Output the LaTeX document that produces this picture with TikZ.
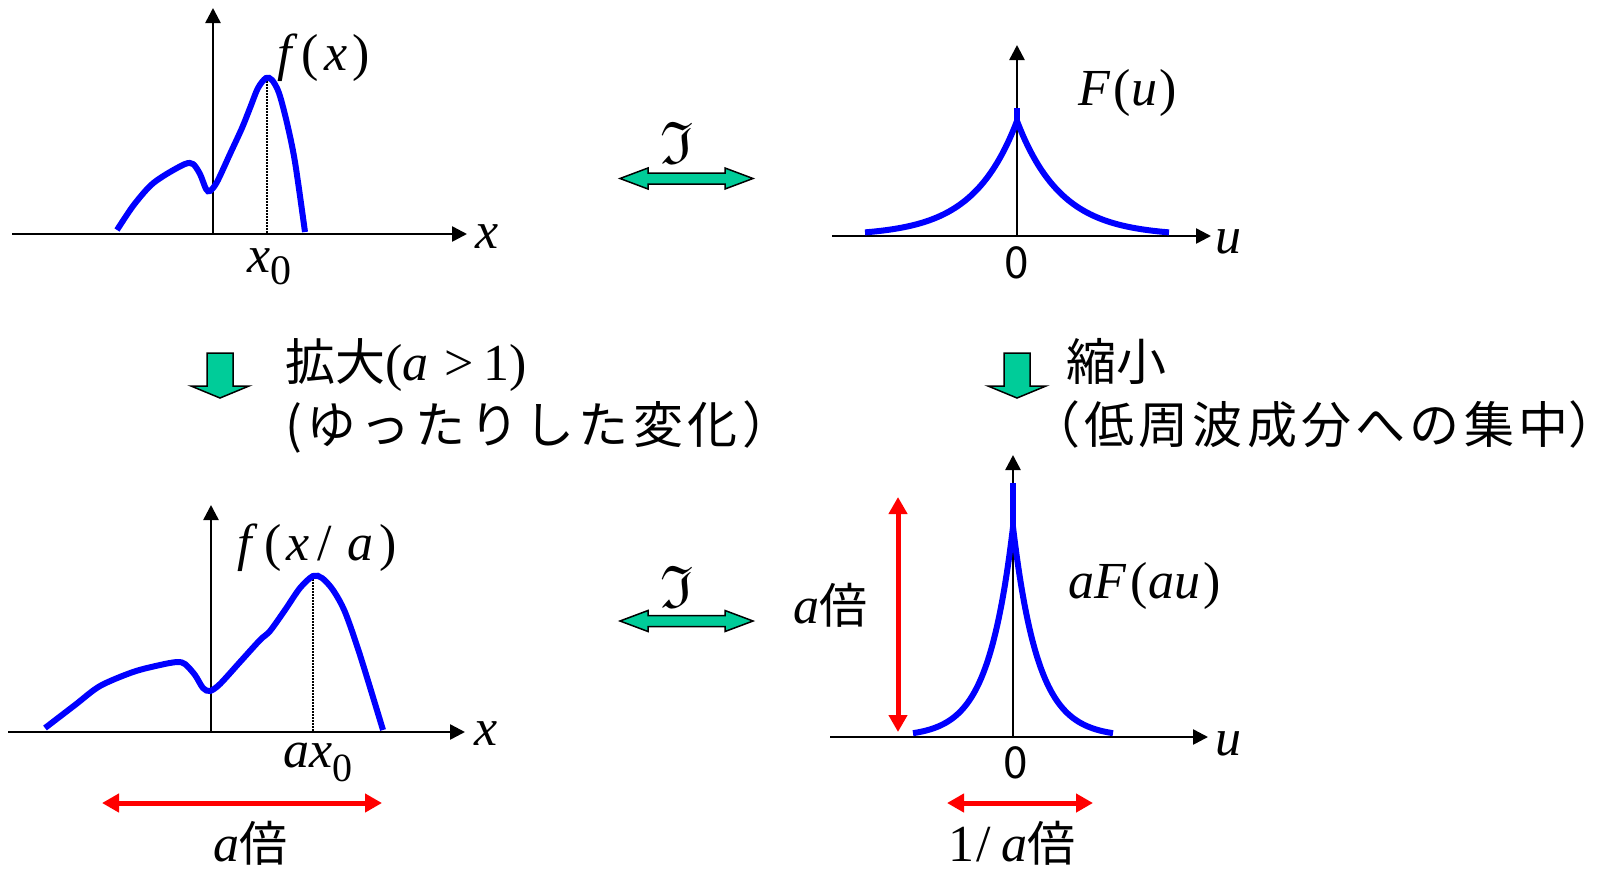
\documentclass[tikz,border=0pt]{standalone}
\usepackage{amssymb}
\usepackage{fontspec}
\setmainfont{Liberation Serif}
\newfontfamily\jp{Noto Sans CJK JP}
\newfontfamily\jpw[LetterSpace=9]{Noto Sans CJK JP}
\newfontfamily\jpv[LetterSpace=8.5]{Noto Sans CJK JP}
\usetikzlibrary{arrows.meta}
\definecolor{grn}{RGB}{0,204,153}
\newcommand{\mi}[1]{{\itshape #1}}
\newcommand{\sub}[1]{\raisebox{-12pt}{\fontsize{42}{42}\selectfont #1}}
\tikzset{
  axis/.style={line width=2.5pt,-{Triangle[length=15pt,width=15pt]}},
  fcurve/.style={blue,line width=6pt},
  guide/.style={line width=1.5pt,dash pattern=on 1.5pt off 1.5pt},
  redarr/.style={red,line width=5pt,{Triangle[length=17pt,width=18pt]}-{Triangle[length=17pt,width=18pt]}},
  tm/.style={inner sep=0pt,outer sep=0pt,font=\fontsize{52}{60}\selectfont},
  jpa/.style={inner sep=0pt,outer sep=0pt,font=\jpw\fontsize{50}{60}\selectfont},
  jpd/.style={inner sep=0pt,outer sep=0pt,font=\jpv\fontsize{50}{60}\selectfont},
  jpb/.style={inner sep=0pt,outer sep=0pt,font=\jp\fontsize{44}{50}\selectfont},
  jpc/.style={inner sep=0pt,outer sep=0pt,font=\jp\fontsize{50}{60}\selectfont},
  frak/.style={inner sep=0pt,outer sep=0pt,font=\fontsize{60}{64}\selectfont},
  dblarrow/.pic={\draw[black,line width=1.5pt,fill=grn,line join=miter]
     (-66.5,0) -- (-38.5,-10.5) -- (-38.5,-5.5) -- (38.5,-5.5) -- (38.5,-10.5) -- (66.5,0)
     -- (38.5,10.5) -- (38.5,5.5) -- (-38.5,5.5) -- (-38.5,10.5) -- cycle;},
  downarrow/.pic={\draw[black,line width=1.5pt,fill=grn,line join=miter]
     (-13,0) -- (13,0) -- (13,33) -- (29,33) -- (0,45) -- (-29,33) -- (-13,33) -- cycle;}
}
\begin{document}
\begin{tikzpicture}[x=1pt,y=-1pt]
\useasboundingbox (0,0) rectangle (1605,873);

% ---------- top left: f(x)
\coordinate (tlxs) at (12,234);
\coordinate (tlxe) at (467,234);
\coordinate (tlyo) at (213,234);
\coordinate (tlye) at (213,8);
\draw[axis] (tlxs) -- (tlxe);
\draw[axis] (tlyo) -- (tlye);
\coordinate (tlpk) at (267,78);
\coordinate (tlpb) at (267,234);
\draw[guide] (tlpk) -- (tlpb);
\draw[fcurve] plot[smooth,tension=0.5] coordinates {(117,230) (133,206) (150,186) (165,175) (185,164) (193,164) (200,174) (206,189) (210,191) (217,182) (230,154) (242,128) (250,108) (258,88) (266,78) (272,80) (279,93) (287,123) (295,162) (305,232)};
\node[tm,anchor=base west] (fx) at (277,70) {\mi{f}\kern.2em(\kern.1em\mi{x}\kern.1em)};
\node[tm,anchor=base] (tlx) at (487,248) {\mi{x}};
\node[tm,anchor=base west] (tlx0) at (247,272) {\mi{x}\sub{0}};

% ---------- top right: F(u)
\coordinate (trxs) at (832,236);
\coordinate (trxe) at (1211,236);
\coordinate (tryo) at (1017,236);
\coordinate (trye) at (1017,45);
\draw[axis] (trxs) -- (trxe);
\draw[axis] (tryo) -- (trye);
\draw[fcurve] plot[domain=152:0,samples=80] ({1017-\x},{236-115*exp(-\x/44)});
\draw[fcurve] plot[domain=0:152,samples=80] ({1017+\x},{236-115*exp(-\x/44)});
\coordinate (trpk) at (1017,108);
\coordinate (trst) at (1017,124);
\draw[fcurve] (trpk) -- (trst);
\node[tm,anchor=base west] (Fu) at (1078,105) {\mi{F}\kern.08em(\mi{u}\kern.05em)};
\node[tm,anchor=base] (tru) at (1228,253) {\mi{u}};
\node[jpb,anchor=base] (tr0) at (1017,278) {0};

% ---------- top transform arrow
\pic at (686.5,178.5) {dblarrow};
\node[frak] (ft1) at (677,143) {$\mathfrak{I}$};

% ---------- middle
\pic at (220,353) {downarrow};
\pic at (1017,353) {downarrow};
\node[anchor=base west,inner sep=0pt] (l1) at (285,380) {{\jp\fontsize{50}{60}\selectfont 拡大}{\fontsize{52}{60}\selectfont(\mi{a}\kern.3em>\kern.2em1)}};
\node[jpa,anchor=base west] (l2) at (285,443) {(ゆったりした変化）};
\node[jpc,anchor=base west] (r1) at (1066,380) {縮小};
\node[jpd,anchor=base west] (r2) at (1030,443) {（低周波成分への集中{\addfontfeature{RawFeature=+halt}）}};

% ---------- bottom left: f(x/a)
\coordinate (blxs) at (8,732);
\coordinate (blxe) at (465,732);
\coordinate (blyo) at (211,732);
\coordinate (blye) at (211,505);
\draw[axis] (blxs) -- (blxe);
\draw[axis] (blyo) -- (blye);
\coordinate (blpk) at (313,576);
\coordinate (blpb) at (313,732);
\draw[guide] (blpk) -- (blpb);
\draw[fcurve] plot[smooth,tension=0.5] coordinates {(45,728) (75,705) (100,686) (133,672) (160,665) (177,662) (185,664) (195,675) (203,688) (210,691) (220,684) (240,662) (260,640) (270,631) (285,610) (300,588) (313,576) (322,578) (333,590) (345,612) (360,655) (383,730)};
\node[tm,anchor=base west] (fxa) at (237,560) {\mi{f}\kern.25em(\kern.1em\mi{x}\kern.15em/\kern.3em\mi{a}\kern.1em)};
\node[tm,anchor=base] (blx) at (486,745) {\mi{x}};
\node[tm,anchor=base west] (blax0) at (283,767) {\mi{ax}\raisebox{-14pt}{\fontsize{40}{40}\selectfont 0}};
\coordinate (blal) at (102,803);
\coordinate (blar) at (382,803);
\draw[redarr] (blal) -- (blar);
\node[anchor=base west,inner sep=0pt] (blab) at (213,861) {{\fontsize{52}{60}\selectfont\mi{a}}{\jp\fontsize{48}{50}\selectfont 倍}};

% ---------- bottom transform arrow
\pic at (686.5,621) {dblarrow};
\node[frak] (ft2) at (677,587) {$\mathfrak{I}$};

% ---------- bottom right: aF(au)
\coordinate (brxs) at (830,737);
\coordinate (brxe) at (1208,737);
\coordinate (bryo) at (1013,737);
\coordinate (brye) at (1013,455);
\draw[axis] (brxs) -- (brxe);
\draw[axis] (bryo) -- (brye);
\draw[fcurve] plot[domain=100:0,samples=80] ({1013-\x},{737-210*exp(-\x/25)});
\draw[fcurve] plot[domain=0:100,samples=80] ({1013+\x},{737-210*exp(-\x/25)});
\coordinate (brpk) at (1013,483);
\coordinate (brst) at (1013,530);
\draw[fcurve] (brpk) -- (brst);
\node[tm,anchor=base west] (aFau) at (1068,598) {\mi{aF}\kern.1em(\mi{au}\kern.06em)};
\node[tm,anchor=base] (bru) at (1228,755) {\mi{u}};
\node[jpb,anchor=base] (br0) at (1016,778) {0};
\coordinate (brvt) at (898,497);
\coordinate (brvb) at (898,732);
\draw[redarr] (brvt) -- (brvb);
\node[anchor=base west,inner sep=0pt] (brab) at (793,623) {{\fontsize{52}{60}\selectfont\mi{a}}{\jp\fontsize{48}{50}\selectfont 倍}};
\coordinate (brhl) at (947,803);
\coordinate (brhr) at (1093,803);
\draw[redarr] (brhl) -- (brhr);
\node[anchor=base west,inner sep=0pt] (brinv) at (948,861) {{\fontsize{52}{60}\selectfont 1\kern.05em/\kern.2em\mi{a}}{\jp\fontsize{48}{50}\selectfont 倍}};
\end{tikzpicture}
\end{document}
